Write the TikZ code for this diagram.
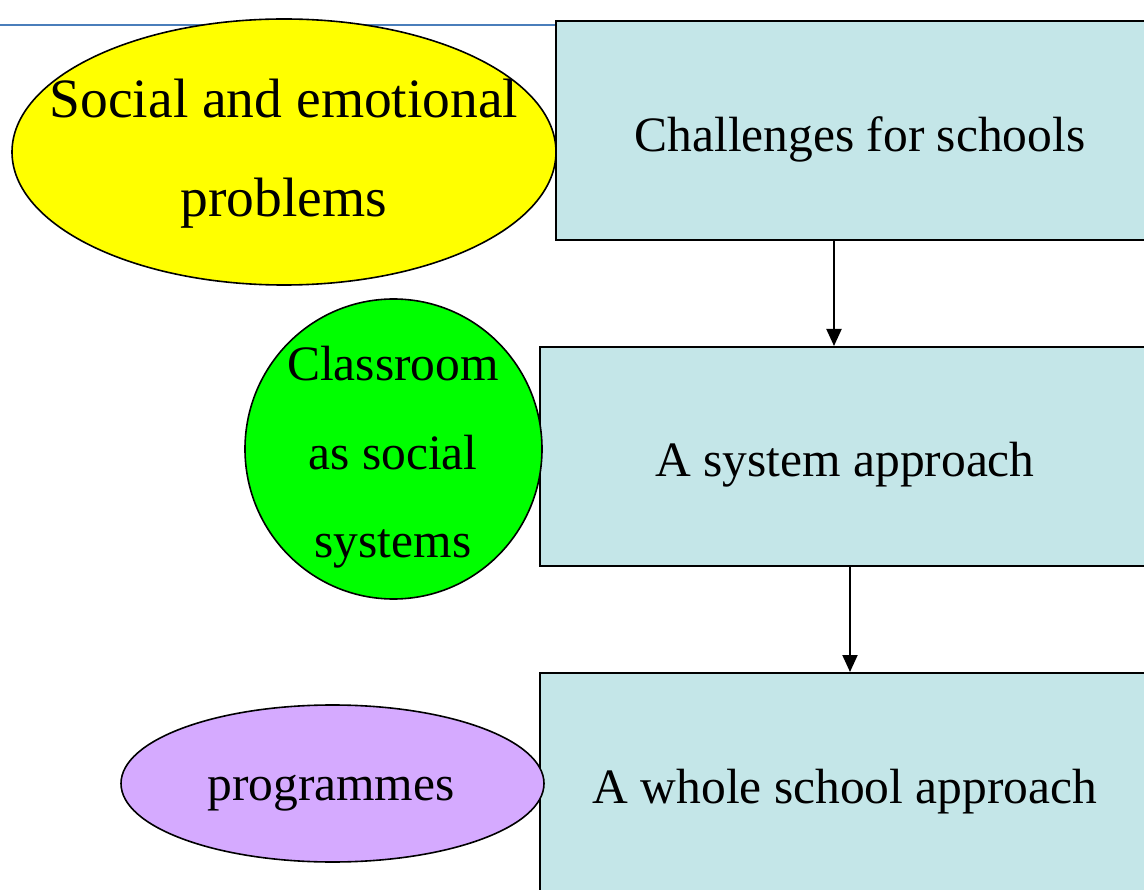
\documentclass[tikz,border=0pt]{standalone}
\usepackage{fontspec}
\setmainfont{Liberation Serif}
\usetikzlibrary{shapes.geometric,arrows.meta}
\definecolor{boxfill}{HTML}{C4E6E8}
\definecolor{ylw}{HTML}{FFFF00}
\definecolor{grn}{HTML}{00FF00}
\definecolor{prp}{HTML}{D5AAFF}
\definecolor{topline}{HTML}{4A7EBB}
\tikzset{
  stepbox/.style={draw=black, line width=2pt, fill=boxfill, rectangle, inner sep=0pt, minimum width=610pt, minimum height=219pt},
  blob/.style={draw=black, line width=1.6pt, ellipse, inner sep=0pt},
  lbl/.style={anchor=base, inner sep=0pt, font=\fontsize{49.5}{99}\selectfont},
  biglbl/.style={lbl, font=\fontsize{55.5}{99}\selectfont},
  arr/.style={line width=2pt, -{Triangle[width=15pt,length=17pt]}}
}
\begin{document}
\begin{tikzpicture}[x=1pt,y=-1pt]
\useasboundingbox (0,0) rectangle (1144,890);
\clip (0,0) rectangle (1144,890);
\fill[white] (0,0) rectangle (1144,890);
\coordinate (lineL) at (0,25);
\node[stepbox, minimum width=608pt] (box1) at (860,130.5) {};
\node[stepbox] (box2) at (845,456.5) {};
\node[stepbox] (box3) at (845,782.5) {};
\draw[topline, line width=2pt] (lineL) -- (lineL -| box1.west);
\node[blob, fill=ylw, minimum width=544pt, minimum height=266pt] (sep) at (284,152) {};
\node[blob, fill=grn, minimum width=297pt, minimum height=300pt] (cls) at (393.5,449) {};
\node[blob, fill=prp, minimum width=423pt, minimum height=157pt] (prg) at (332.5,783.5) {};
\draw[arr] ([xshift=279pt]box1.south west) -- ([xshift=295pt]box2.north west);
\draw[arr] ([xshift=311pt]box2.south west) -- ([xshift=311pt]box3.north west);
\node[lbl] (t1) at (860,152) {Challenges for schools};
\node[lbl] (t2) at (845,477) {A system approach};
\node[lbl] (t3) at (845,803) {A whole school approach};
\node[biglbl] (s1) at (284,118) {Social and emotional};
\node[biglbl] (s2) at (284,217) {problems};
\node[lbl] (c1) at (393,381) {Classroom};
\node[lbl] (c2) at (393,470) {as social};
\node[lbl] (c3) at (393,558) {systems};
\node[lbl] (p1) at (331,800) {programmes};
\end{tikzpicture}
\end{document}
